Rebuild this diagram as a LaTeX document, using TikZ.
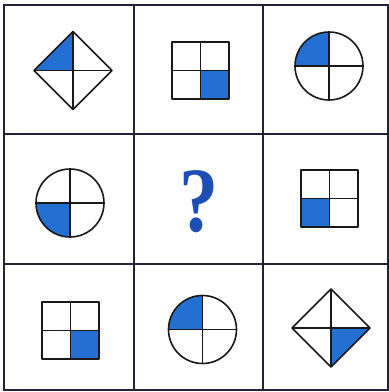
\documentclass[tikz,border=0pt]{standalone}
\usepackage{fontspec}
\setmainfont{Liberation Serif}
\usetikzlibrary{calc}
\definecolor{qblue}{RGB}{36,112,210}
\definecolor{qmark}{RGB}{28,78,182}
\definecolor{gridc}{RGB}{35,35,55}
\tikzset{
  gridline/.style={draw=gridc, line width=2.2pt},
  figline/.style={draw=black!90, line width=1.6pt, line join=round},
  qfill/.style={fill=qblue},
}
\begin{document}
\begin{tikzpicture}[x=1pt,y=-1pt]
\useasboundingbox (0,0) rectangle (389,392);
\fill[white] (0,0) rectangle (389,392);
% grid
\draw[gridline] (4,5) rectangle (388,390);
\draw[gridline] (134,5) -- (134,390);
\draw[gridline] (263,5) -- (263,390);
\draw[gridline] (4,134) -- (388,134);
\draw[gridline] (4,264) -- (388,264);

% cell (1,1): diamond, top-left filled
\coordinate (d1) at (73,70.5);
\fill[qfill] (d1) -- ++(0,-39) -- ++(-39,39) -- cycle;
\draw[figline] ($(d1)+(-39,0)$) -- ++(39,-39) -- ++(39,39) -- ++(-39,39) -- cycle;
\draw[figline] ($(d1)+(-39,0)$) -- ++(78,0);
\draw[figline] ($(d1)+(0,-39)$) -- ++(0,78);

% cell (1,2): square, bottom-right filled
\coordinate (s1) at (200.5,70.5);
\fill[qfill] (s1) rectangle ++(28.5,28.5);
\draw[figline] ($(s1)+(-28.5,-28.5)$) rectangle ++(57,57);
\draw[figline] ($(s1)+(-28.5,0)$) -- ++(57,0);
\draw[figline] ($(s1)+(0,-28.5)$) -- ++(0,57);

% cell (1,3): circle, top-left filled
\coordinate (c1) at (329,66);
\begin{scope}
\clip ($(c1)+(-40,-40)$) rectangle (c1);
\fill[qfill] (c1) circle[radius=34];
\end{scope}
\draw[figline] (c1) circle[radius=34];
\draw[figline] ($(c1)+(-34,0)$) -- ++(68,0);
\draw[figline] ($(c1)+(0,-34)$) -- ++(0,68);

% cell (2,1): circle, bottom-left filled
\coordinate (c2) at (70,203);
\begin{scope}
\clip ($(c2)+(-40,0)$) rectangle ($(c2)+(0,40)$);
\fill[qfill] (c2) circle[radius=34];
\end{scope}
\draw[figline] (c2) circle[radius=34];
\draw[figline] ($(c2)+(-34,0)$) -- ++(68,0);
\draw[figline] ($(c2)+(0,-34)$) -- ++(0,68);

% cell (2,2): question mark
\node[text=qmark, font=\fontsize{92}{92}\selectfont\bfseries, xscale=0.85, inner sep=0pt] (q) at (199,202) {?};

% cell (2,3): square, bottom-left filled
\coordinate (s2) at (329.5,198.5);
\fill[qfill] (s2) rectangle ++(-28.5,28.5);
\draw[figline] ($(s2)+(-28.5,-28.5)$) rectangle ++(57,57);
\draw[figline] ($(s2)+(-28.5,0)$) -- ++(57,0);
\draw[figline] ($(s2)+(0,-28.5)$) -- ++(0,57);

% cell (3,1): square, bottom-right filled
\coordinate (s3) at (70.5,330.5);
\fill[qfill] (s3) rectangle ++(28.5,28.5);
\draw[figline] ($(s3)+(-28.5,-28.5)$) rectangle ++(57,57);
\draw[figline] ($(s3)+(-28.5,0)$) -- ++(57,0);
\draw[figline] ($(s3)+(0,-28.5)$) -- ++(0,57);

% cell (3,2): circle, top-left filled
\coordinate (c3) at (202.5,329.5);
\begin{scope}
\clip ($(c3)+(-40,-40)$) rectangle (c3);
\fill[qfill] (c3) circle[radius=34];
\end{scope}
\draw[figline] (c3) circle[radius=34];
\draw[figline] ($(c3)+(-34,0)$) -- ++(68,0);
\draw[figline] ($(c3)+(0,-34)$) -- ++(0,68);

% cell (3,3): diamond, bottom-right filled
\coordinate (d2) at (331,328);
\fill[qfill] (d2) -- ++(0,39) -- ++(39,-39) -- cycle;
\draw[figline] ($(d2)+(-39,0)$) -- ++(39,-39) -- ++(39,39) -- ++(-39,39) -- cycle;
\draw[figline] ($(d2)+(-39,0)$) -- ++(78,0);
\draw[figline] ($(d2)+(0,-39)$) -- ++(0,78);
\end{tikzpicture}
\end{document}
